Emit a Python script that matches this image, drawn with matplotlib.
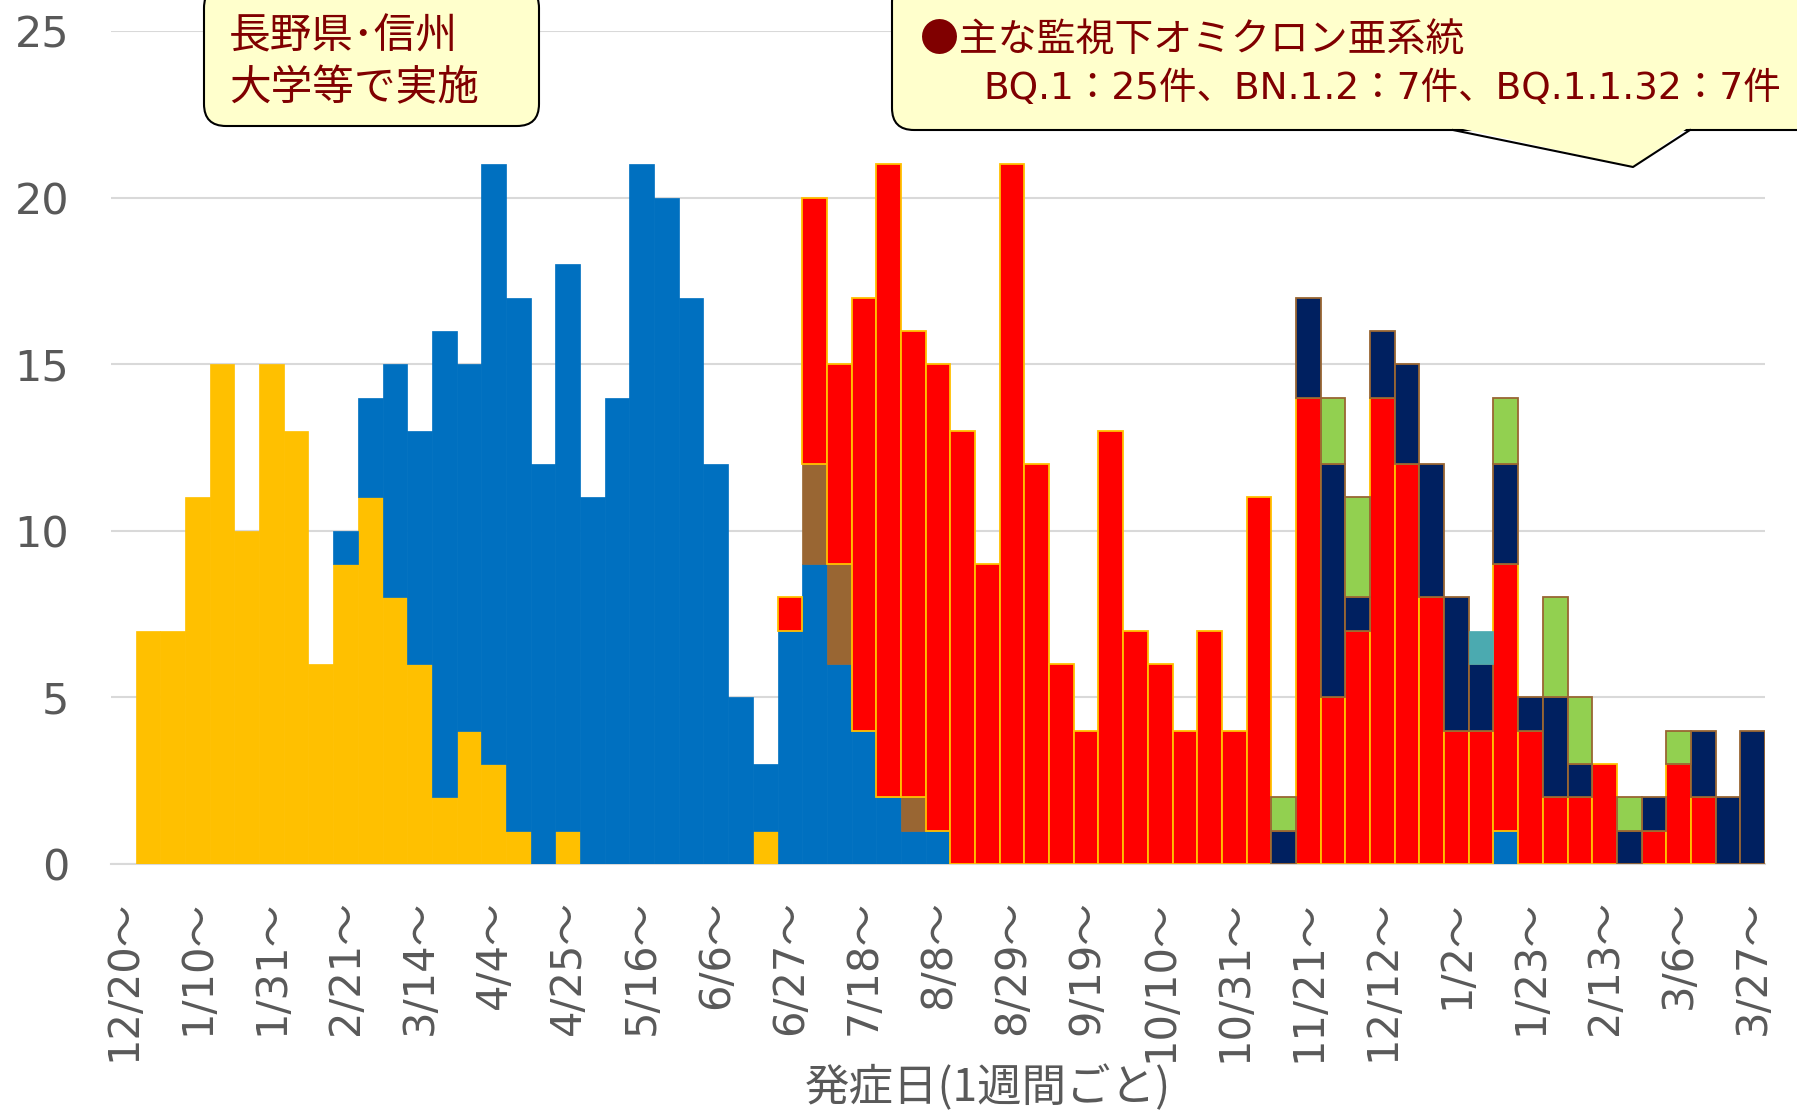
import numpy as np
import matplotlib
matplotlib.use("Agg")
import matplotlib.pyplot as plt
from matplotlib.patches import FancyBboxPatch, Polygon
from matplotlib.lines import Line2D
from matplotlib.transforms import IdentityTransform

plt.rcParams['font.family'] = ['Noto Sans CJK JP', 'DejaVu Sans']
latin = ['DejaVu Sans', 'Noto Sans CJK JP']  # wider digits for the ticks

# weekly categories 12/20 ... 3/27, label every 3 weeks
tick_labels = ["12/20～", "1/10～", "1/31～", "2/21～", "3/14～", "4/4～", "4/25～",
               "5/16～", "6/6～", "6/27～", "7/18～", "8/8～", "8/29～", "9/19～",
               "10/10～", "10/31～", "11/21～", "12/12～", "1/2～", "1/23～",
               "2/13～", "3/6～", "3/27～"]

# counts per week, one list per lineage (stack order bottom -> top)
yellow = [0, 7, 7, 11, 15, 10, 15, 13, 6, 9, 11, 8, 6, 2, 4, 3, 1, 0, 1, 0,
          0, 0, 0, 0, 0, 0, 1, 0, 0, 0, 0, 0, 0, 0, 0, 0, 0, 0, 0, 0,
          0, 0, 0, 0, 0, 0, 0, 0, 0, 0, 0, 0, 0, 0, 0, 0, 0, 0, 0, 0,
          0, 0, 0, 0, 0, 0, 0]
blue = [0, 0, 0, 0, 0, 0, 0, 0, 0, 1, 3, 7, 7, 14, 11, 18, 16, 12, 17, 11,
        14, 21, 20, 17, 12, 5, 2, 7, 9, 6, 4, 2, 1, 1, 0, 0, 0, 0, 0, 0,
        0, 0, 0, 0, 0, 0, 0, 0, 0, 0, 0, 0, 0, 0, 0, 0, 1, 0, 0, 0,
        0, 0, 0, 0, 0, 0, 0]
brown = [0, 0, 0, 0, 0, 0, 0, 0, 0, 0, 0, 0, 0, 0, 0, 0, 0, 0, 0, 0,
         0, 0, 0, 0, 0, 0, 0, 0, 3, 3, 0, 0, 1, 0, 0, 0, 0, 0, 0, 0,
         0, 0, 0, 0, 0, 0, 0, 0, 0, 0, 0, 0, 0, 0, 0, 0, 0, 0, 0, 0,
         0, 0, 0, 0, 0, 0, 0]
red = [0, 0, 0, 0, 0, 0, 0, 0, 0, 0, 0, 0, 0, 0, 0, 0, 0, 0, 0, 0,
       0, 0, 0, 0, 0, 0, 0, 1, 8, 6, 13, 19, 14, 14, 13, 9, 21, 12, 6, 4,
       13, 7, 6, 4, 7, 4, 11, 0, 14, 5, 7, 14, 12, 8, 4, 4, 8, 4, 2, 2,
       3, 0, 1, 3, 2, 0, 0]
navy = [0, 0, 0, 0, 0, 0, 0, 0, 0, 0, 0, 0, 0, 0, 0, 0, 0, 0, 0, 0,
        0, 0, 0, 0, 0, 0, 0, 0, 0, 0, 0, 0, 0, 0, 0, 0, 0, 0, 0, 0,
        0, 0, 0, 0, 0, 0, 0, 1, 3, 7, 1, 2, 3, 4, 4, 2, 3, 1, 3, 1,
        0, 1, 1, 0, 2, 2, 4]
teal = [0, 0, 0, 0, 0, 0, 0, 0, 0, 0, 0, 0, 0, 0, 0, 0, 0, 0, 0, 0,
        0, 0, 0, 0, 0, 0, 0, 0, 0, 0, 0, 0, 0, 0, 0, 0, 0, 0, 0, 0,
        0, 0, 0, 0, 0, 0, 0, 0, 0, 0, 0, 0, 0, 0, 0, 1, 0, 0, 0, 0,
        0, 0, 0, 0, 0, 0, 0]
green = [0, 0, 0, 0, 0, 0, 0, 0, 0, 0, 0, 0, 0, 0, 0, 0, 0, 0, 0, 0,
         0, 0, 0, 0, 0, 0, 0, 0, 0, 0, 0, 0, 0, 0, 0, 0, 0, 0, 0, 0,
         0, 0, 0, 0, 0, 0, 0, 1, 0, 2, 3, 0, 0, 0, 0, 0, 2, 0, 3, 2,
         0, 1, 0, 1, 0, 0, 0]

W, H = 1797, 1115
fig = plt.figure(figsize=(W / 100, H / 100), dpi=100)
ax = fig.add_axes([111 / W, 1 - 864 / H, (1765 - 111) / W, (864 - 31) / H])

x = np.arange(len(yellow))
bottom = np.zeros(len(x))
series = [(yellow, '#FFC000', None), (blue, '#0070C0', None), (brown, '#996633', None),
          (red, '#FF0000', '#FFC000'), (navy, '#002060', '#996633'),
          (teal, '#4BAAB0', None), (green, '#92D050', '#996633')]
for vals, fc, ec in series:
    v = np.array(vals, dtype=float)
    m = v > 0
    if ec is None:
        ax.bar(x[m], v[m], bottom=bottom[m], width=1.0, color=fc,
               edgecolor=fc, linewidth=0.5, zorder=3)
    else:
        ax.bar(x[m], v[m], bottom=bottom[m], width=1.0, color=fc,
               edgecolor=ec, linewidth=1.3, zorder=3)
    bottom += v

ax.set_xlim(-0.5, len(x) - 0.5)
ax.set_ylim(0, 25)
ax.set_yticks(range(0, 26, 5))
ax.set_yticklabels([str(v) for v in range(0, 26, 5)], family=latin)
ax.set_xticks(x[::3])
ax.set_xticklabels(tick_labels, rotation=90, family=latin)
ax.tick_params(axis='y', length=0, pad=30, labelsize=31, labelcolor='#595959')
ax.tick_params(axis='x', length=0, pad=26, labelsize=30, labelcolor='#595959')
ax.yaxis.grid(True, color='#D9D9D9', lw=1.5)
ax.set_axisbelow(True)
for s in ['top', 'right', 'left']:
    ax.spines[s].set_visible(False)
ax.spines['bottom'].set_color('#D9D9D9')
ax.spines['bottom'].set_linewidth(1.5)

fig.text(988 / W, 1 - 1088 / H, '発症日(1週間ごと)', ha='center', va='center',
         fontsize=32, color='#595959')

# note boxes (pixel coords, origin bottom-left)
pix = IdentityTransform()
box1 = FancyBboxPatch((204, H - 126), 335, 140, boxstyle='round,pad=0,rounding_size=22',
                      transform=pix, fc='#FFFFCC', ec='black', lw=1.5)
fig.patches.append(box1)
fig.text(229 / W, 1 - 37 / H, '長野県･信州', ha='left', va='center', fontsize=30, color='#800000')
fig.text(229 / W, 1 - 89 / H, '大学等で実施', ha='left', va='center', fontsize=30, color='#800000')

box2 = FancyBboxPatch((892, H - 130), 1000, 150, boxstyle='round,pad=0,rounding_size=22',
                      transform=pix, fc='#FFFFCC', ec='black', lw=1.5)
fig.patches.append(box2)
tip = Polygon([(1454, H - 127), (1633, H - 167), (1689, H - 127)], closed=True,
              transform=pix, fc='#FFFFCC', ec='none')
fig.patches.append(tip)
fig.lines.append(Line2D([1453, 1633, 1690], [H - 130, H - 167, H - 130],
                        transform=pix, color='black', lw=1.5))
fig.text(920 / W, 1 - 40 / H, '●主な監視下オミクロン亜系統', ha='left', va='center',
         fontsize=28, color='#800000')
fig.text(983 / W, 1 - 89 / H, 'BQ.1：25件、BN.1.2：7件、BQ.1.1.32：7件', ha='left',
         va='center', fontsize=27, color='#800000', family=latin)

fig.savefig('out.png', dpi=100)
